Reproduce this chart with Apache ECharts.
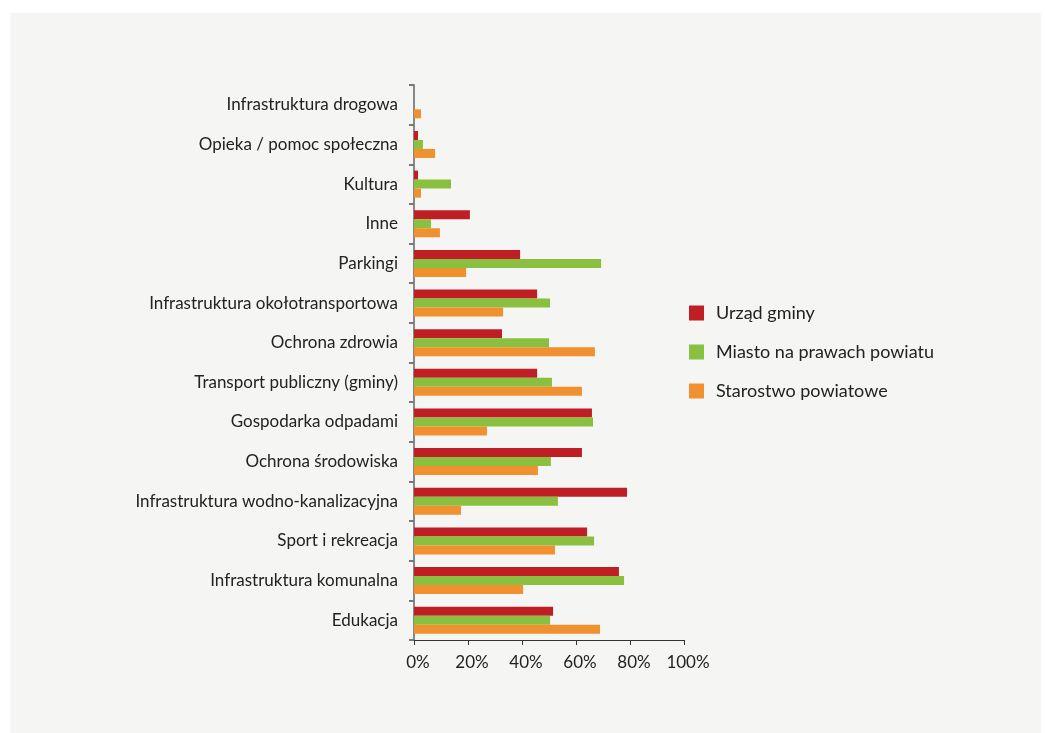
<!DOCTYPE html>
<html>
<head>
<meta charset="utf-8">
<script src="https://cdn.jsdelivr.net/npm/echarts@6/dist/echarts.min.js"></script>
<style>
  html, body { margin: 0; padding: 0; background: #ffffff; }
  #panel { position: absolute; left: 10px; top: 13px; width: 1031px; height: 720px; background: #f5f5f3; }
  #chart { position: absolute; left: 0; top: 0; width: 1045px; height: 733px; }
</style>
</head>
<body>
<div id="panel"></div>
<div id="chart"></div>
<script>
// Categories listed from the top row down
const categories = [
  'Infrastruktura drogowa',
  'Opieka / pomoc społeczna',
  'Kultura',
  'Inne',
  'Parkingi',
  'Infrastruktura okołotransportowa',
  'Ochrona zdrowia',
  'Transport publiczny (gminy)',
  'Gospodarka odpadami',
  'Ochrona środowiska',
  'Infrastruktura wodno-kanalizacyjna',
  'Sport i rekreacja',
  'Infrastruktura komunalna',
  'Edukacja'
];

const seriesNames = ['Urząd gminy', 'Miasto na prawach powiatu', 'Starostwo powiatowe'];

// Shares in percent, same order as categories
const urzadGminy = [0, 1.5, 1.5, 20.7, 39.3, 45.6, 32.6, 45.6, 65.9, 62.2, 78.9, 64.1, 75.9, 51.5];
const miastoNaPrawachPowiatu = [0, 3.3, 13.7, 6.3, 69.3, 50.4, 50.0, 51.1, 66.3, 50.7, 53.3, 66.7, 77.8, 50.4];
const starostwoPowiatowe = [2.6, 7.8, 2.6, 9.6, 19.3, 33.0, 67.0, 62.2, 27.0, 45.9, 17.4, 52.2, 40.4, 68.9];

const xTicks = [0, 20, 40, 60, 80, 100];

const colors = ['#be1e24', '#89c03f', '#f0902f'];
const font = 'Lato, "Open Sans", sans-serif';

const chart = echarts.init(document.getElementById('chart'));

const values = [urzadGminy, miastoNaPrawachPowiatu, starostwoPowiatowe];

chart.setOption({
  backgroundColor: 'transparent',
  animation: false,
  textStyle: { fontFamily: font },
  legend: {
    orient: 'vertical',
    left: 689,
    top: 304,
    padding: 0,
    itemWidth: 15,
    itemHeight: 15,
    itemGap: 21,
    icon: 'rect',
    data: seriesNames,
    textStyle: { fontSize: 18, color: '#222', fontFamily: font, padding: [0, 0, 0, 7] }
  },
  grid: { left: 414, right: 361, top: 85, bottom: 93, containLabel: false },
  xAxis: {
    type: 'value',
    min: xTicks[0],
    max: xTicks[xTicks.length - 1],
    interval: 20,
    splitLine: { show: false },
    axisLine: { show: true, lineStyle: { color: '#333', width: 1 } },
    axisTick: { show: true, length: 5, lineStyle: { color: '#333' } },
    axisLabel: {
      formatter: v => v + '%',
      fontSize: 17,
      color: '#222',
      margin: 14,
      padding: [0, 0, 0, 8],
      fontFamily: font
    }
  },
  yAxis: {
    type: 'category',
    data: categories,
    inverse: true,
    axisLine: { show: true, lineStyle: { color: '#888', width: 2 } },
    axisTick: { show: true, length: 5, alignWithLabel: false, lineStyle: { color: '#777', width: 2 } },
    axisLabel: { fontSize: 17, color: '#222', margin: 16, fontFamily: font }
  },
  series: seriesNames.map((name, i) => ({
    name,
    type: 'bar',
    data: values[i],
    barWidth: 9,
    barGap: '0%',
    itemStyle: { color: colors[i] }
  }))
});
</script>
</body>
</html>
